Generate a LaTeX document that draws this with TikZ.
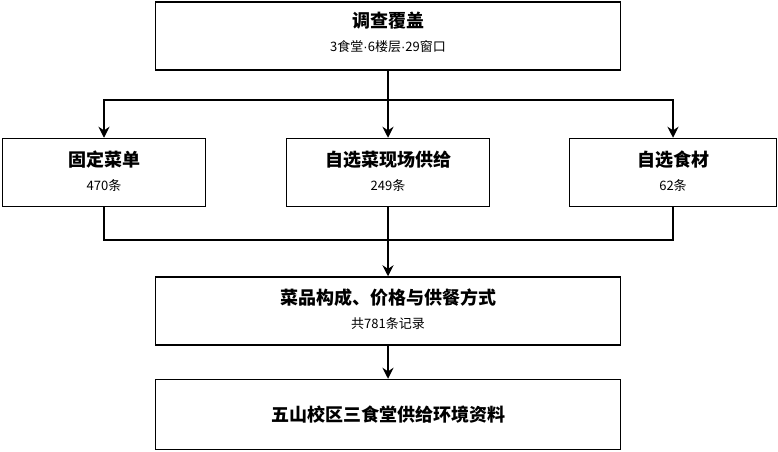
\documentclass[tikz,border=0pt]{standalone}
\usepackage{fontspec}
\setmainfont{Noto Sans CJK SC}
\newfontfamily\latinfont{Liberation Sans}
\usetikzlibrary{arrows.meta}
\tikzset{
  box/.style={draw, line width=1.5pt, minimum height=68pt, align=center, inner sep=0pt},
  ttl/.style={font=\fontsize{18}{21}\selectfont\bfseries},
  sub/.style={font=\fontsize{13}{15}\selectfont},
  arr/.style={-{Stealth[length=11pt,width=11pt]}, line width=1.5pt}
}
\newcommand{\mdot}{{\latinfont ·}}
\begin{document}
\begin{tikzpicture}[x=1pt,y=-1pt]
		\useasboundingbox (0,0) rectangle (778,451);
		
		\node[box, minimum width=465pt] (cover) at (388,36) {};
		\node[ttl] at (388,21) {调查覆盖};
		\node[sub] at (388,47) {3食堂\mdot 6楼层\mdot 29窗口};
		
		\node[box, minimum width=203pt] (fixed) at (104,172.5) {};
		\node[ttl] at (104,160) {固定菜单};
		\node[sub] at (104,186) {470条};
		
		\node[box, minimum width=203pt] (onsite) at (388,172.5) {};
		\node[ttl] at (388,160) {自选菜现场供给};
		\node[sub] at (388,186) {249条};
		
		\node[box, minimum width=207pt] (raw) at (673,172.5) {};
		\node[ttl] at (673,160) {自选食材};
		\node[sub] at (673,186) {62条};
		
		\node[box, minimum width=465pt] (menu) at (388,311) {};
		\node[ttl] at (388,298) {菜品构成、价格与供餐方式};
		\node[sub] at (388,324) {共781条记录};
		
		\node[box, minimum width=465pt, minimum height=70pt] (env) at (388,414.5) {};
		\node[ttl] at (388,414.5) {五山校区三食堂供给环境资料};
		
		% fan out
		\coordinate (split) at (388,100);
		\draw[line width=1.5pt] (cover.south) -- (split);
		\draw[arr] (split) -- (104,100) -- (fixed.north);
		\draw[arr] (split) -- (onsite.north);
		\draw[arr] (split) -- (673,100) -- (raw.north);
		
		% merge
		\coordinate (join) at (388,240);
		\draw[line width=1.5pt] (fixed.south) -- (104,240) -- (join);
		\draw[line width=1.5pt] (raw.south) -- (673,240) -- (join);
		\draw[arr] (onsite.south) -- (menu.north);
		\draw[arr] (menu.south) -- (env.north);
\end{tikzpicture}
\end{document}
